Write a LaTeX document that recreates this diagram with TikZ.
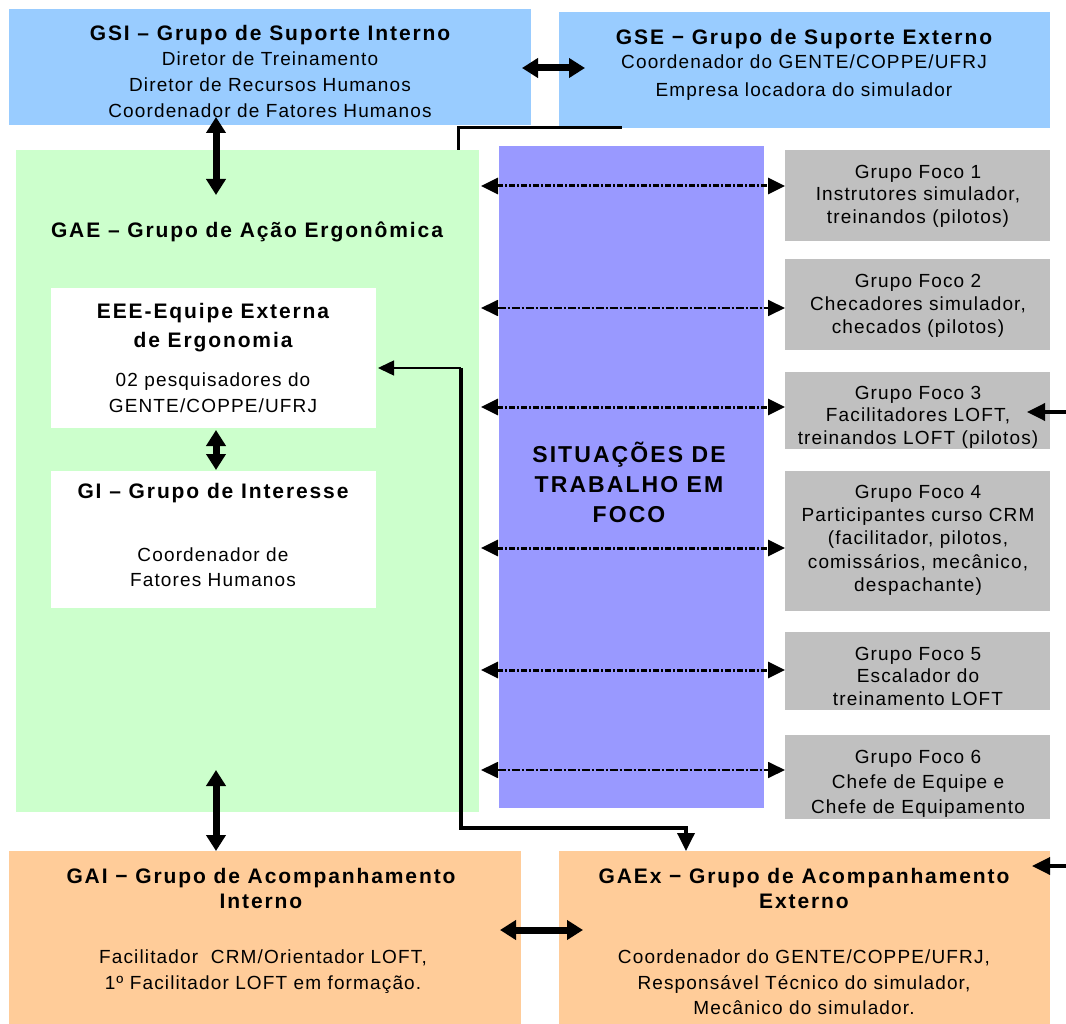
\documentclass[tikz,border=0pt]{standalone}
\usepackage{fontspec}
\setmainfont{Liberation Sans}
\newfontfamily\bodyf{Liberation Sans}[LetterSpace=6]
\newfontfamily\titlef{Liberation Sans}[LetterSpace=9]
\usetikzlibrary{arrows.meta,calc}
\definecolor{cblue}{HTML}{99CCFF}
\definecolor{cgreen}{HTML}{CCFFCC}
\definecolor{cpurple}{HTML}{9999FF}
\definecolor{cgray}{HTML}{C0C0C0}
\definecolor{corange}{HTML}{FFCC99}
\begin{document}
\begin{tikzpicture}[x=1pt,y=-1pt,
  box/.style={draw=none,anchor=north west,inner sep=0,outer sep=0},
  bodytxt/.style={anchor=north,inner sep=0,align=center,font=\bodyf\fontsize{19}{#1}\selectfont},
  bodytxt/.default=26,
  titletxt/.style={anchor=north,inner sep=0,align=center,font=\titlef\bfseries\fontsize{21}{#1}\selectfont},
  titletxt/.default=28,
  dbl/.style={line width=7pt,{Triangle[length=16pt,width=19pt]}-{Triangle[length=16pt,width=19pt]}},
  dd/.style={line width=3pt,dash pattern=on 6pt off 2pt on 2pt off 2pt,{Triangle[length=17pt,width=16pt]}-{Triangle[length=17pt,width=16pt]}},
  thk/.style={line width=3pt},
  thkarrow/.style={line width=3.5pt,-{Triangle[length=18pt,width=17pt]}},
  thnarrow/.style={line width=1.5pt,-{Triangle[length=16pt,width=15pt]}}
]
\useasboundingbox (0,0) rectangle (1066,1024);
% boxes
\node[box,fill=cblue,minimum width=522pt,minimum height=116pt] (gsi) at (9,9) {};
\node[box,fill=cblue,minimum width=491pt,minimum height=116pt] (gse) at (559,12) {};
\node[box,fill=cgreen,minimum width=463pt,minimum height=662pt] (gae) at (16,150) {};
\node[box,fill=cpurple,minimum width=265pt,minimum height=662pt] (sit) at (499,146) {};
\node[box,fill=cgray,minimum width=265pt,minimum height=91pt] (f1) at (785,150) {};
\node[box,fill=cgray,minimum width=265pt,minimum height=91pt] (f2) at (785,259) {};
\node[box,fill=cgray,minimum width=265pt,minimum height=77pt] (f3) at (785,372) {};
\node[box,fill=cgray,minimum width=265pt,minimum height=140pt] (f4) at (785,471) {};
\node[box,fill=cgray,minimum width=265pt,minimum height=78pt] (f5) at (785,632) {};
\node[box,fill=cgray,minimum width=265pt,minimum height=84pt] (f6) at (785,735) {};
\node[box,fill=white,minimum width=325pt,minimum height=140pt] (eee) at (51,288) {};
\node[box,fill=white,minimum width=325pt,minimum height=137pt] (gi) at (51,471) {};
\node[box,fill=corange,minimum width=512pt,minimum height=173pt] (gai) at (9,851) {};
\node[box,fill=corange,minimum width=491pt,minimum height=173pt] (gaex) at (559,851) {};
% texts
\node[titletxt] (gsiT) at (270,25) {GSI – Grupo de Suporte Interno};
\node[bodytxt=26] (gsiB) at (270,52) {Diretor de Treinamento\\Diretor de Recursos Humanos\\Coordenador de Fatores Humanos};
\node[titletxt] (gseT) at (804,29) {GSE − Grupo de Suporte Externo};
\node[bodytxt=28] (gseB) at (804,55) {Coordenador do GENTE/COPPE/UFRJ\\Empresa locadora do simulador};
\node[titletxt] (gaeT) at (247,222) {GAE – Grupo de Ação Ergonômica};
\node[titletxt=29] (eeeT) at (213,303) {EEE-Equipe Externa\\de Ergonomia};
\node[bodytxt=26] (eeeB) at (213,373) {02 pesquisadores do\\GENTE/COPPE/UFRJ};
\node[titletxt] (giT) at (213,483) {GI – Grupo de Interesse};
\node[bodytxt=25] (giB) at (213,548) {Coordenador de\\Fatores Humanos};
\node[anchor=north,inner sep=0,align=center,font=\titlef\bfseries\fontsize{23}{30}\selectfont] (sitT) at (629,442) {SITUAÇÕES DE\\TRABALHO EM\\FOCO};
\node[bodytxt=22.5] (f1T) at (918,165) {Grupo Foco 1\\Instrutores simulador,\\treinandos (pilotos)};
\node[bodytxt=23] (f2T) at (918,274) {Grupo Foco 2\\Checadores simulador,\\checados (pilotos)};
\node[bodytxt=22.5] (f3T) at (918,386) {Grupo Foco 3\\Facilitadores LOFT,\\treinandos LOFT (pilotos)};
\node[bodytxt=23.2] (f4T) at (918,485) {Grupo Foco 4\\Participantes curso CRM\\(facilitador, pilotos,\\comissários, mecânico,\\despachante)};
\node[bodytxt=22.5] (f5T) at (918,647) {Grupo Foco 5\\Escalador do\\treinamento LOFT};
\node[bodytxt=25] (f6T) at (918,750) {Grupo Foco 6\\Chefe de Equipe e\\Chefe de Equipamento};
\node[titletxt=25] (gaiT) at (261,868) {GAI − Grupo de Acompanhamento\\Interno};
\node[bodytxt=26] (gaiB) at (263,950) {Facilitador \ CRM/Orientador LOFT,\\1º Facilitador LOFT em formação.};
\node[titletxt=25] (gaexT) at (804,868) {GAEx − Grupo de Acompanhamento\\Externo};
\node[bodytxt=25.5] (gaexB) at (804,950) {Coordenador do GENTE/COPPE/UFRJ,\\Responsável Técnico do simulador,\\Mecânico do simulador.};
% coordinates
\coordinate (xa) at (216,0);
\coordinate (gaeA) at (216,195);
\coordinate (gaeB) at (216,770);
\coordinate (xb) at (458,0);
\coordinate (xc) at (622,0);
\coordinate (j) at (461,368);
\coordinate (k) at (686,828);
\coordinate (l1) at (481,186);
\coordinate (l2) at (481,308);
\coordinate (l3) at (481,407);
\coordinate (l4) at (481,548);
\coordinate (l5) at (481,670);
\coordinate (l6) at (481,770);
\coordinate (r3) at (1066,412);
\coordinate (r7) at (1066,866);
% connectors
\draw[dbl] ($(gsi.east)+(-9,1)$) -- ($(gse.west |- gsi.east)+(26,1)$);
\draw[dbl] ($(gsi.south -| xa)+(0,-8)$) -- (gaeA);
\draw[dbl] ($(eee.south -| xa)+(0,2)$) -- ($(gi.north -| xa)+(0,-1)$);
\draw[dbl] (gaeB) -- (gai.north -| xa);
\draw[dbl] ($(gai.east |- 0,930)+(-21,0)$) -- ($(gaex.west |- 0,930)+(24,0)$);
\draw[thk] (gae.north -| xb) -- (xb |- gse.south) -- (gse.south -| xc);
\draw[thnarrow] (j) -- ($(j -| eee.east)+(2,0)$);
\draw[thkarrow] (j) |- (k) -- (k |- gaex.north);
\draw[dd] (l1) -- (l1 -| f1.west);
\draw[dd,line width=1.8pt,dash pattern=on 8pt off 2pt on 2pt off 2pt] (l2) -- (l2 -| f2.west);
\draw[dd] (l3) -- (l3 -| f3.west);
\draw[dd] (l4) -- (l4 -| f4.west);
\draw[dd] (l5) -- (l5 -| f5.west);
\draw[dd,line width=1.8pt,dash pattern=on 8pt off 2pt on 2pt off 2pt] (l6) -- (l6 -| f6.west);
\draw[thkarrow] (r3) -- ($(r3 -| f3.east)+(-23,0)$);
\draw[thkarrow] (r7) -- ($(r7 -| gaex.east)+(-18,0)$);
\end{tikzpicture}
\end{document}
